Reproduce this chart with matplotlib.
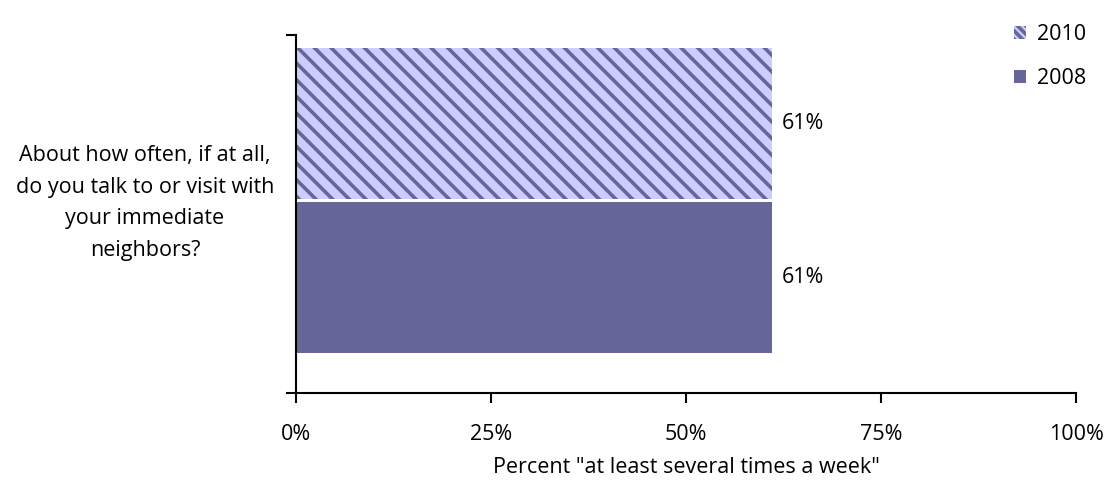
import matplotlib.pyplot as plt
from matplotlib.patches import Patch
from matplotlib.ticker import FuncFormatter

plt.rcParams.update({
    'font.family': ['Open Sans', 'DejaVu Sans'],
    'font.size': 15.5,
    'hatch.linewidth': 2.6,
})

# Data
question = 'About how often, if at all,\ndo you talk to or visit with\nyour immediate\nneighbors?'
series = ['2010', '2008']
values = [61, 61]
face_colors = ['#ccccff', '#666699']
hatches = ['\\\\', '']
xticks = [0, 25, 50, 75, 100]

fig = plt.figure(figsize=(11.11, 4.88), dpi=100)
ax = fig.add_axes([0.2664, 0.1947, 0.7021, 0.7336])

# bar layout inside the single category
y_pos = [0.753, 0.3226]
bar_h = 0.424

for y, v, fc, h in zip(y_pos, values, face_colors, hatches):
    ax.barh(y, v, height=bar_h, color=fc, edgecolor='#666699',
            linewidth=0, hatch=h)
    ax.text(v + 1.3, y, f'{v}%', va='center', ha='left', fontsize=15.5)

ax.set_xlim(0, 100)
ax.set_ylim(0, 1)
ax.set_xticks(xticks)
ax.xaxis.set_major_formatter(FuncFormatter(lambda x, p: f'{x:.0f}%'))
ax.set_yticks([0, 1])
ax.set_yticklabels(['', ''])
ax.tick_params(axis='both', direction='out', length=7, width=1.5, labelsize=15.5)
ax.tick_params(axis='x', pad=15)

for s in ['top', 'right']:
    ax.spines[s].set_visible(False)
for s in ['left', 'bottom']:
    ax.spines[s].set_linewidth(1.5)

ax.set_xlabel('Percent "at least several times a week"', fontsize=15.5, labelpad=9)

fig.text(0.1305, 0.584, question, ha='center', va='center', fontsize=15.5,
         linespacing=1.66)

legend_elements = [
    Patch(facecolor='#ccccff', edgecolor='#666699', linewidth=0, hatch='\\\\\\\\', label='2010'),
    Patch(facecolor='#666699', edgecolor='#666699', linewidth=0, label='2008'),
]
fig.legend(handles=legend_elements, loc='upper right', bbox_to_anchor=(0.995, 0.99),
           frameon=False, handlelength=0.55, handleheight=0.55, handletextpad=0.5,
           labelspacing=1.05, fontsize=15.5)

fig.savefig('out.png', dpi=100)
